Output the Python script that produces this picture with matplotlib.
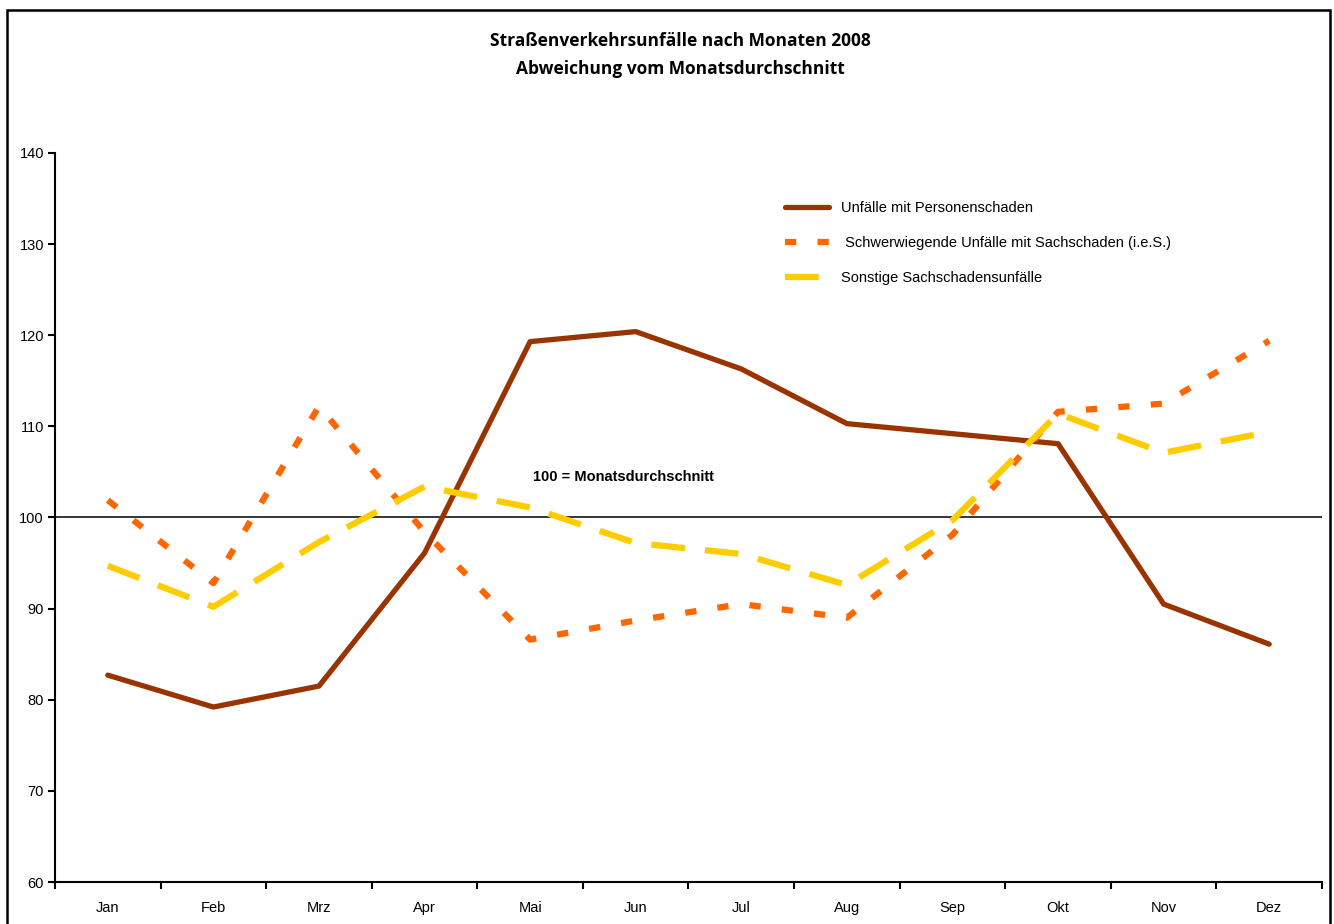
import matplotlib.pyplot as plt
from matplotlib.patches import Rectangle

plt.rcParams["font.family"] = ["Liberation Sans", "DejaVu Sans"]

months = ["Jan", "Feb", "Mrz", "Apr", "Mai", "Jun",
          "Jul", "Aug", "Sep", "Okt", "Nov", "Dez"]

personen = [82.7, 79.2, 81.5, 96.1, 119.3, 120.4,
            116.3, 110.3, 109.2, 108.1, 90.5, 86.1]
sach_schwer = [101.9, 92.8, 112.2, 98.4, 86.6, 88.7,
               90.5, 89.0, 98.1, 111.6, 112.5, 119.4]
sach_sonst = [94.7, 90.2, 97.3, 103.4, 101.1, 97.2,
              96.0, 92.6, 99.7, 111.4, 107.1, 109.4]

labels = ["Unfälle mit Personenschaden",
          " Schwerwiegende Unfälle mit Sachschaden (i.e.S.)",
          "Sonstige Sachschadensunfälle"]

W, H = 1334, 924
fig = plt.figure(figsize=(W / 100, H / 100), dpi=100)

# frame around the whole chart
fig.patches.append(Rectangle((7 / W, -0.05), (1330 - 7) / W, 1.05 - 10 / H,
                             transform=fig.transFigure, fill=False,
                             edgecolor="black", linewidth=1.8))

ax = fig.add_axes([55 / W, 42 / H, (1322 - 55) / W, 729 / H])

x = list(range(len(months)))
ax.plot(x, personen, color="#993300", lw=3.8, solid_capstyle="round",
        label=labels[0])
ax.plot(x, sach_schwer, color="#FF6600", lw=4.5, dashes=(1.8, 3.4),
        dash_capstyle="butt", label=labels[1])
ax.plot(x, sach_sonst, color="#FFCC00", lw=4.5, dashes=(5.4, 3.2),
        dash_capstyle="butt", label=labels[2])

ax.axhline(100, color="black", lw=1.1, zorder=1)
ax.text(4.88, 104.4, "100 = Monatsdurchschnitt", fontsize=10.5,
        fontweight="bold", ha="center", va="center")

ax.set_xlim(-0.5, 11.5)
ax.set_ylim(60, 140)
ax.set_yticks(range(60, 141, 10))
ax.set_xticks(x)
ax.set_xticklabels(months)
ax.set_xticks([i + 0.5 for i in range(-1, 12)], minor=True)
ax.tick_params(axis="x", which="major", length=0, pad=14, labelsize=10.5)
ax.tick_params(axis="x", which="minor", length=5, width=1.5, direction="out")
ax.tick_params(axis="y", length=5, width=1.5, direction="out", pad=3,
               labelsize=10.5)

for s in ["top", "right"]:
    ax.spines[s].set_visible(False)
for s in ["left", "bottom"]:
    ax.spines[s].set_linewidth(1.5)

ax.legend(loc="upper left", bbox_to_anchor=(785 / W, 1 - 201 / H),
          bbox_transform=fig.transFigure, frameon=False, fontsize=10.5,
          handlelength=3.0, handletextpad=0.85, labelspacing=1.45,
          borderpad=0, borderaxespad=0)

fig.text(680 / W, 1 - 41 / H, "Straßenverkehrsunfälle nach Monaten 2008",
         ha="center", va="center", fontsize=12.5, fontweight="bold",
         family=["Open Sans", "DejaVu Sans"])
fig.text(680 / W, 1 - 69 / H, "Abweichung vom Monatsdurchschnitt",
         ha="center", va="center", fontsize=12.5, fontweight="bold",
         family=["Open Sans", "DejaVu Sans"])

fig.savefig("out.png", dpi=100)
